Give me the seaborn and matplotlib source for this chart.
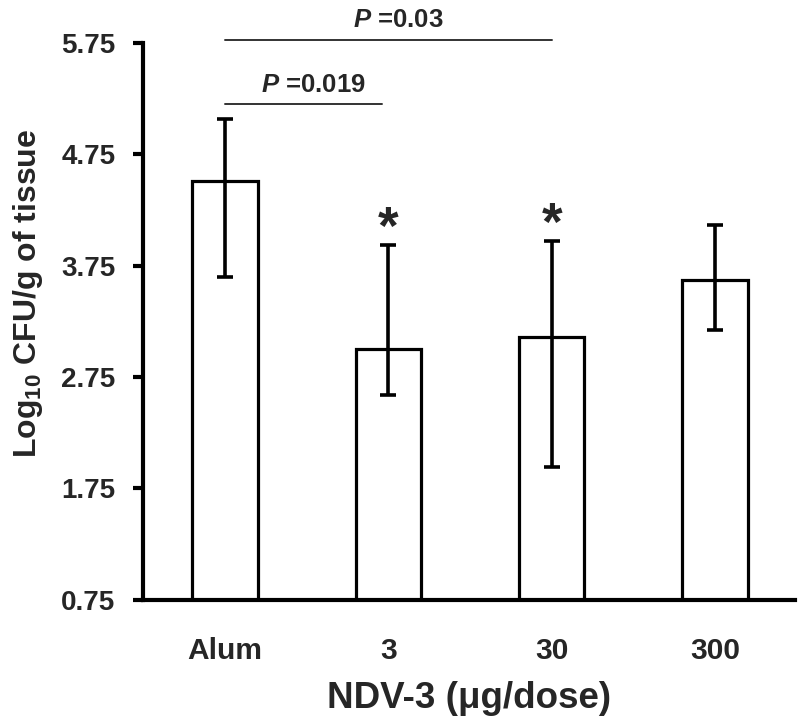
import numpy as np
import pandas as pd
import matplotlib
matplotlib.use("Agg")
import matplotlib.pyplot as plt
import seaborn as sns

# ---- data ----
groups = ["Alum", "3", "30", "300"]
means = [4.51, 3.00, 3.11, 3.62]
err_upper = [5.07, 3.94, 3.97, 4.12]   # top of error bar
err_lower = [3.65, 2.59, 1.94, 3.17]   # bottom of error bar
yticks = [0.75, 1.75, 2.75, 3.75, 4.75, 5.75]
sig_pairs = [(0, 0.96, 5.20, "=0.019"), (0, 2, 5.78, "=0.03")]
star_groups = [1, 2]

sns.set_theme(style="white")
plt.rcParams["font.family"] = ["Liberation Sans", "DejaVu Sans"]
plt.rcParams["font.weight"] = "bold"
plt.rcParams["mathtext.fontset"] = "custom"
plt.rcParams["mathtext.rm"] = "Liberation Sans:bold"
plt.rcParams["mathtext.it"] = "Liberation Sans:bold:italic"
plt.rcParams["mathtext.bf"] = "Liberation Sans:bold"
plt.rcParams["mathtext.default"] = "rm"

df = pd.DataFrame({"group": groups, "mean": means})

fig = plt.figure(figsize=(8, 7.28), dpi=100)
ax = fig.add_axes([0.179, 0.176, 0.815, 0.765])

sns.barplot(data=df, x="group", y="mean", order=groups, color="white",
            edgecolor="black", linewidth=2.3, width=0.4, errorbar=None, ax=ax,
            zorder=2)

m = np.array(means)
yerr = np.vstack([m - np.array(err_lower), np.array(err_upper) - m])
ax.errorbar(np.arange(len(groups)), m, yerr=yerr, fmt="none", ecolor="black",
            elinewidth=2.6, capsize=6, capthick=2.6, zorder=3)

ax.set_ylim(0.75, 5.75)
ax.set_xlim(-0.5, 3.49)
ax.set_yticks(yticks)
ax.set_yticklabels([f"{t:.2f}" for t in yticks], fontsize=20, fontweight="bold")
ax.tick_params(axis="y", direction="out", length=7, width=3, pad=13, left=True,
               color="black")
ax.tick_params(axis="x", length=0, pad=27)
for lbl in ax.get_xticklabels():
    lbl.set_fontsize(21.5)
    lbl.set_fontweight("bold")

for s in ["top", "right"]:
    ax.spines[s].set_visible(False)
for s in ["left", "bottom"]:
    ax.spines[s].set_color("black")
    ax.spines[s].set_linewidth(3)

ax.set_xlabel("NDV-3 (μg/dose)", fontsize=26.5, fontweight="bold")
ax.xaxis.set_label_coords(0.5, -0.145)
ax.set_ylabel("Log$_{10}$ CFU/g of tissue", fontsize=23, fontweight="bold")
ax.yaxis.set_label_coords(-0.150, 0.55)

# significance lines and labels
for x0, x1, yv, txt in sig_pairs:
    ax.plot([x0, x1], [yv, yv], color="#333333", lw=1.4, clip_on=False, zorder=4)
    ax.text((x0 + x1) / 2 + 0.06, yv + 0.11, "$\\mathit{P}$ " + txt, ha="center",
            va="baseline", fontsize=18.5, fontweight="bold", clip_on=False)

for g in star_groups:
    ax.text(g, err_upper[g] - 0.09, "*", ha="center", va="bottom", fontsize=38,
            fontweight="bold")

fig.savefig("out.png", dpi=100, facecolor="white")
